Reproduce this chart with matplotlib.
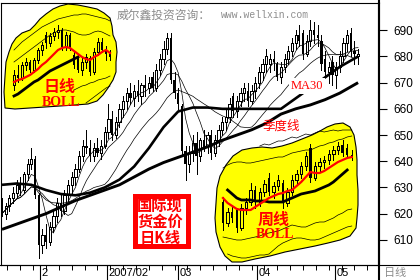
import numpy as np
import pandas as pd
import matplotlib
matplotlib.use('Agg')
import matplotlib.pyplot as plt
from matplotlib.patches import Polygon, Rectangle

# ---- daily gold spot candles (USD/oz), late Dec 2006 - early May 2007 ----
opens = [624, 620, 623, 626, 628, 631, 629, 635, 639, 641, 627, 608, 612, 609, 615, 619, 624, 621, 627, 631,
         634, 637, 642, 646, 645, 642, 645, 643, 646, 651, 656, 650, 655, 660, 663, 666, 664, 667, 665, 669,
         668, 672, 668, 675, 679, 683, 687, 671, 666, 661, 644, 639, 643, 647, 642, 648, 646, 650, 643, 648,
         652, 655, 657, 665, 659, 663, 666, 667, 663, 667, 670, 674, 677, 677, 679, 677, 672, 676, 679, 682,
         685, 688, 689, 681, 686, 690, 688, 686, 679, 674, 678, 673, 676, 680, 685, 689, 682, 680]
highs = [626, 624, 627, 630, 633, 634, 636, 641, 645, 642, 628, 614, 616, 617, 621, 626, 628, 629, 633, 636,
         639, 644, 648, 652, 648, 647, 649, 648, 653, 662, 659, 657, 662, 665, 668, 670, 669, 671, 670, 673,
         672, 674, 677, 681, 686, 689, 689, 674, 668, 662, 646, 646, 650, 651, 649, 652, 651, 652, 650, 654,
         657, 660, 664, 666, 665, 668, 670, 670, 669, 672, 676, 679, 683, 681, 682, 678, 678, 681, 684, 687,
         690, 692, 690, 688, 694, 693, 692, 688, 682, 678, 680, 678, 682, 687, 690, 691, 686, 683]
lows = [619, 618, 621, 624, 626, 627, 628, 633, 637, 626, 603, 605, 607, 608, 613, 617, 619, 620, 625, 628,
        631, 636, 640, 643, 640, 640, 642, 641, 645, 649, 648, 649, 653, 657, 660, 662, 661, 663, 662, 665,
        666, 667, 667, 673, 677, 681, 670, 664, 660, 642, 633, 636, 640, 635, 640, 644, 643, 641, 642, 646,
        650, 652, 655, 657, 657, 661, 663, 661, 662, 664, 668, 671, 674, 674, 675, 671, 670, 674, 677, 680,
        683, 684, 679, 680, 684, 685, 684, 675, 672, 670, 669, 668, 674, 678, 682, 680, 677, 677]
closes = [620, 623, 626, 628, 631, 629, 635, 639, 641, 627, 608, 612, 609, 615, 619, 624, 621, 627, 631, 634,
          637, 642, 646, 645, 642, 645, 643, 646, 651, 656, 650, 655, 660, 663, 666, 664, 667, 665, 669, 668,
          670, 668, 675, 679, 683, 687, 671, 666, 662, 644, 639, 643, 647, 642, 648, 645, 650, 643, 648, 652,
          655, 657, 662, 659, 663, 666, 668, 663, 667, 670, 674, 677, 680, 679, 678, 672, 676, 679, 682, 685,
          688, 686, 681, 686, 690, 688, 687, 677, 674, 676, 673, 676, 680, 685, 688, 682, 681, 681]

# thick moving averages (candle index -> price)
ma30_idx = [0, 4, 8, 12, 16, 20, 24, 28, 32, 36, 40, 44, 48, 52, 56, 60, 64, 68, 72, 76, 80, 84, 88, 92, 97]
ma30_val = [631, 631.5, 631, 629, 627.5, 627, 628, 630, 633, 638, 645, 653, 659, 660.5, 660.5, 660, 660, 660,
            660, 660, 664, 668, 672, 676, 680]
ma60_idx = [0, 4, 8, 12, 16, 20, 24, 28, 32, 36, 40, 44, 48, 52, 56, 60, 64, 68, 72, 76, 80, 84, 88, 92, 97]
ma60_val = [614, 616, 618, 620, 622.5, 625, 627, 629, 631, 634, 637, 639.5, 641.5, 643.5, 645.5, 648, 650, 652,
            654.5, 658, 660, 661.5, 663.5, 666, 670]

month_idx = [10.4, 28.6, 48.0, 69.5, 90.8]
month_labels = ['2', '2007/02', '03', '04', '05']
price_ticks = [610, 620, 630, 640, 650, 660, 670, 680, 690]

# ---- inset 1: daily BOLL (schematic units) ----
day_open = [35, 45, 42, 55, 58, 50, 60, 70, 85, 77, 84, 88, 90, 73, 85, 65, 62, 50, 58, 62, 48, 68, 78, 70, 66]
day_high = [50, 55, 58, 62, 60, 62, 72, 78, 88, 87, 92, 95, 92, 88, 87, 68, 66, 62, 66, 64, 72, 82, 82, 74, 70]
day_low = [30, 38, 40, 50, 48, 48, 57, 65, 72, 74, 80, 82, 70, 70, 70, 52, 48, 45, 52, 45, 46, 65, 68, 60, 60]
day_close = [45, 42, 55, 58, 50, 60, 70, 75, 77, 84, 88, 90, 73, 85, 72, 55, 50, 58, 63, 48, 68, 78, 70, 66, 63]
day_mid = [38, 40, 41, 43, 45, 48, 51, 55, 58, 62, 66, 70, 72, 73, 72, 69, 66, 63, 61, 60, 63, 65, 68, 70, 67]
day_slow = [24, 26, 29, 32, 35, 38, 40, 43, 46, 49, 51, 53, 55, 57, 59, 61, 63]
day_upper1 = [70, 74, 78, 81, 84, 87, 90, 93, 95, 97, 99, 101, 102, 103, 104, 105, 105, 106, 106, 105, 104, 103,
              102, 101, 99]
day_upper2 = [58, 61, 64, 67, 70, 73, 76, 79, 82, 85, 87, 89, 90, 90, 89, 88, 86, 85, 85, 86, 88, 89, 88, 86, 84]
day_lower1 = [30, 32, 34, 35, 37, 38, 40, 41, 42, 44]      # from k = 15
day_lower2 = [17, 20, 23, 26, 29, 32, 34]                  # from k = 18

# ---- inset 2: weekly BOLL (schematic units) ----
wk_open = [68, 47, 58, 60, 42, 62, 68, 80, 68, 78, 92, 78, 84, 87, 67, 78, 90, 96, 104, 122, 92, 104, 108, 110,
           116, 120, 125, 122, 115]
wk_high = [73, 62, 64, 62, 66, 72, 87, 84, 82, 90, 97, 88, 95, 90, 82, 95, 100, 108, 118, 126, 108, 112, 114,
           120, 124, 128, 130, 126, 120]
wk_low = [40, 44, 48, 38, 40, 56, 65, 62, 64, 74, 75, 72, 80, 62, 64, 75, 86, 92, 100, 88, 90, 98, 102, 106,
          110, 116, 114, 112, 110]
wk_close = [47, 58, 52, 42, 62, 68, 80, 68, 78, 86, 78, 84, 90, 67, 78, 90, 96, 104, 114, 92, 104, 108, 110, 116,
            120, 124, 117, 115, 113]
wk_mid = [72, 67, 64, 61, 60, 60, 60, 63, 66, 69, 72, 74, 76, 77, 79, 80, 84, 88, 93, 98, 97, 97, 99, 102, 105,
          108, 110, 112, 113]
wk_slow = [80, 76, 72, 70, 70, 70, 69, 69, 69, 68, 68, 68, 68, 70, 72, 74, 76, 77, 78, 79, 81, 83, 85, 88, 92,
           96, 100]                                         # from k = 1
wk_upper1 = [102, 105, 107, 108, 108, 107, 107, 108, 109, 110, 111, 112, 113, 113, 115, 117, 118, 119, 120, 120,
             122, 124, 125, 127, 128, 130, 131, 133, 134]
wk_upper2 = [124, 126, 125, 127, 129, 129, 131, 133, 132, 134, 136, 135, 137, 139, 138, 139, 140, 139, 140, 140,
             140]                                           # from k = 8
wk_lower1 = [33, 32, 31, 30, 30, 31, 32, 33, 34, 36, 37, 38, 39, 41, 43, 45, 44, 43, 43, 45, 47, 48, 48, 50, 52,
             55, 57, 60, 61]
wk_lower2 = [16, 14, 13, 12, 12, 13, 14, 15, 15, 16, 20, 24, 27, 29, 31, 32, 32, 31, 30, 30, 31, 33, 35, 37, 39,
             41, 43, 44]                                    # from k = 1

# yellow blob outlines (pixel coordinates)
left_blob = [(5, 108), (4, 92), (5, 76), (6, 62), (9, 52), (12, 44), (16, 38), (22, 33), (30, 30), (35, 25),
             (40, 19), (46, 14), (53, 9), (60, 6), (68, 4), (78, 5), (88, 7), (97, 9), (104, 13), (110, 18),
             (112, 26), (113, 35), (116, 42), (117, 52), (116, 62), (116, 72), (113, 80), (108, 88), (103, 95),
             (97, 101), (88, 104), (75, 105), (60, 106), (45, 107), (30, 108), (15, 109)]
right_blob = [(220, 176), (226, 165), (233, 156), (242, 150), (252, 148), (262, 147), (272, 148), (282, 146),
              (292, 143), (302, 139), (312, 135), (320, 131), (327, 127), (335, 124), (343, 123), (350, 127),
              (354, 135), (356, 147), (357, 160), (357, 175), (358, 190), (358, 205), (357, 218), (356, 228),
              (350, 236), (340, 240), (328, 243), (315, 246), (300, 249), (285, 252), (270, 256), (255, 259),
              (242, 262), (232, 262), (225, 256), (220, 247), (216, 232), (215, 218), (216, 203), (217, 188)]

RED = '#ff0000'
YELLOW = '#ffff00'
GRAY = '#8c8c8c'
CJK = ['Noto Sans CJK SC', 'DejaVu Sans']
plt.rcParams['font.family'] = ['Liberation Sans', 'Noto Sans CJK SC', 'DejaVu Sans']

W, H = 420, 280
fig = plt.figure(figsize=(W / 100, H / 100), dpi=100)


def px_axes(x0, y0, x1, y1):
    return fig.add_axes([x0 / W, 1 - y1 / H, (x1 - x0) / W, (y1 - y0) / H])


def px_text(x, y, s, **kw):
    return fig.text(x / W, 1 - y / H, s, **kw)


def draw_candles(ax, o, h, l, c, width, lw, up_face, start=0):
    x = np.arange(len(o)) + start
    o, h, l, c = (np.asarray(v, dtype=float) for v in (o, h, l, c))
    ax.vlines(x, l, h, color='black', lw=lw, zorder=2, antialiased=False)
    up = c >= o
    body = np.where(np.abs(c - o) < 0.4, 0.4, c - o)
    ax.bar(x[up], body[up], width, bottom=o[up], facecolor=up_face,
           edgecolor='black', linewidth=lw, zorder=3, antialiased=False)
    ax.bar(x[~up], body[~up], width, bottom=o[~up], color='black', linewidth=0, zorder=3,
           antialiased=False)


# main chart
ax = px_axes(1, 3, 379, 265)
draw_candles(ax, opens, highs, lows, closes, 0.62, 0.7, 'white')
close_s = pd.Series(closes, dtype=float)
for n in (5, 10, 20):
    ax.plot(close_s.rolling(n, min_periods=1).mean(), color='black', lw=0.5, zorder=4)
ax.plot(ma30_idx, ma30_val, color='black', lw=1.9, zorder=5, solid_capstyle='butt')
ax.plot(ma60_idx, ma60_val, color='black', lw=2.1, zorder=5, solid_capstyle='butt')
ax.set_xlim(-0.27, 102.7)
ax.set_ylim(600.4, 700.4)
ax.yaxis.tick_right()
ax.set_yticks(price_ticks)
ax.tick_params(axis='y', direction='out', length=5.5, width=0.8, pad=5, labelsize=8.5)
ax.set_xticks(month_idx)
ax.set_xticklabels([])
ax.set_xticks(np.arange(1.5, 100, 3.5), minor=True)
ax.tick_params(axis='x', which='major', direction='out', length=10.8, width=0.8)
ax.tick_params(axis='x', which='minor', direction='out', length=3.5, width=0.7)
for pos, lab in zip(month_idx, month_labels):
    ax.text(pos + 0.4, -0.031, lab, transform=ax.get_xaxis_transform(),
            ha='left', va='center', fontsize=8)
for s in ('left', 'top', 'bottom'):
    ax.spines[s].set_linewidth(0.8)
ax.spines['right'].set_linewidth(1.5)

# overlay: frame extensions, blobs, red box
ov = px_axes(0, 0, W, H)
ov.set_xlim(0, W)
ov.set_ylim(H, 0)
ov.axis('off')
ov.plot([379, 379], [0, 280], color='black', lw=1.5)
ov.plot([0, 420], [265, 265], color='black', lw=0.8)
ov.add_patch(Polygon(left_blob, closed=True, facecolor=YELLOW, edgecolor='black', lw=0.8))
ov.add_patch(Polygon(right_blob, closed=True, facecolor=YELLOW, edgecolor='black', lw=0.8))
ov.add_patch(Rectangle((134.5, 195.5), 53, 50, facecolor='white', edgecolor=RED, lw=3.6))

# inset: daily BOLL
in1 = px_axes(3, 2, 119, 112)
in1.axis('off')
in1.set_xlim(-2.75, 26.25)
in1.set_ylim(8, 118)
draw_candles(in1, day_open, day_high, day_low, day_close, 0.6, 0.7, YELLOW)
in1.plot(day_upper1, color='black', lw=0.5)
in1.plot(day_upper2, color='black', lw=0.5)
in1.plot(np.arange(15, 15 + len(day_lower1)), day_lower1, color='black', lw=0.5)
in1.plot(np.arange(18, 18 + len(day_lower2)), day_lower2, color='black', lw=0.5)
in1.plot(day_slow, color='black', lw=2.0, zorder=4)
in1.plot(day_mid, color=RED, lw=1.6, zorder=5)

# inset: weekly BOLL
in2 = px_axes(212, 118, 362, 265)
in2.axis('off')
in2.set_xlim(-2.39, 30.22)
in2.set_ylim(5, 152)
draw_candles(in2, wk_open, wk_high, wk_low, wk_close, 0.55, 0.7, YELLOW)
in2.plot(wk_upper1, color='black', lw=0.5)
in2.plot(np.arange(8, 8 + len(wk_upper2)), wk_upper2, color='black', lw=0.5)
in2.plot(wk_lower1, color='black', lw=0.5)
in2.plot(np.arange(1, 1 + len(wk_lower2)), wk_lower2, color='black', lw=0.5)
in2.plot(np.arange(1, 1 + len(wk_slow)), wk_slow, color='black', lw=2.0, zorder=4)
in2.plot(wk_mid, color=RED, lw=1.6, zorder=5)

# texts
px_text(117, 15, '威尔鑫投资咨询：', ha='left', va='center', color=GRAY, fontsize=8.5, family=CJK)
px_text(221, 15.5, 'www.wellxin.com', ha='left', va='center', color=GRAY, fontsize=7,
        family='Liberation Mono')
px_text(307, 86, 'MA30', ha='center', va='center', color=RED, fontsize=9, family='Liberation Serif',
        bbox=dict(facecolor='white', edgecolor='none', pad=1.5))
px_text(281, 126, '季度线', ha='center', va='center', color=RED, fontsize=9, family=CJK)
px_text(60, 87, '日线', ha='center', va='center', color=RED, fontsize=11.5, weight='bold', family=CJK)
px_text(61, 102, 'BOLL', ha='center', va='center', color=RED, fontsize=10, weight='bold',
        family='Liberation Serif')
px_text(274, 220, '周线', ha='center', va='center', color=RED, fontsize=11.5, weight='bold', family=CJK)
px_text(275, 235, 'BOLL', ha='center', va='center', color=RED, fontsize=10, weight='bold',
        family='Liberation Serif')
for yy, line in zip((206, 222, 238), ('国际现', '货金价', '日K线')):
    px_text(160, yy, line, ha='center', va='center', color=RED, fontsize=11, weight='bold', family=CJK)
px_text(384, 273, '日线', ha='left', va='center', color=GRAY, fontsize=8, family=CJK)

fig.savefig('out.png', dpi=100)
